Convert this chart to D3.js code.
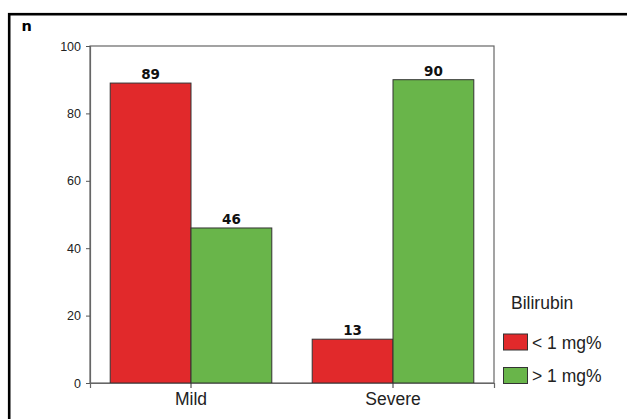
<!DOCTYPE html>
<html><head><meta charset="utf-8">
<script src="https://cdn.jsdelivr.net/npm/d3@7"></script>
<style>body{margin:0;background:#fff}</style>
</head><body><svg id="c" width="627" height="419"></svg>
<script>
const categories = ["Mild", "Severe"];
const seriesNames = ["< 1 mg%", "> 1 mg%"];
const lowBilirubin = [89, 13];
const highBilirubin = [46, 90];
const yTicks = [0, 20, 40, 60, 80, 100];
const colors = ["#e1292b", "#69b54a"];

const svg = d3.select("#c");
const W = 627, H = 419;
const m = {left: 90, top: 46, right: 494, bottom: 383};
const sans = "Liberation Sans, Arial, sans-serif";

svg.append("rect").attr("width", W).attr("height", H).attr("fill", "#fff");
svg.append("rect").attr("x", 9.2).attr("y", 14.2).attr("width", 700).attr("height", 500)
  .attr("fill", "none").attr("stroke", "#000").attr("stroke-width", 2.6);

svg.append("text").attr("x", 21.5).attr("y", 31).text("n")
  .attr("font-family", "DejaVu Sans, sans-serif").attr("font-weight", "bold").attr("font-size", 14.5);

const x0 = d3.scaleBand().domain(categories).range([m.left, m.right]).paddingInner(0.2).paddingOuter(0.1);
const x1 = d3.scaleBand().domain([0, 1]).range([0, x0.bandwidth()]);
const y = d3.scaleLinear().domain([0, 100]).range([m.bottom, m.top]);

// plot frame
svg.append("rect").attr("x", m.left).attr("y", m.top).attr("width", m.right - m.left).attr("height", m.bottom - m.top)
  .attr("fill", "none").attr("stroke", "#666").attr("stroke-width", 1.2);

const data = categories.map((c, i) => ({cat: c, vals: [lowBilirubin[i], highBilirubin[i]]}));

const g = svg.selectAll(".grp").data(data).join("g").attr("transform", d => `translate(${x0(d.cat)},0)`);
g.selectAll("rect").data(d => d.vals.map((v, k) => ({v, k}))).join("rect")
  .attr("x", d => x1(d.k)).attr("y", d => y(d.v)).attr("width", x1.bandwidth()).attr("height", d => y(0) - y(d.v))
  .attr("fill", d => colors[d.k]).attr("stroke", "#333").attr("stroke-width", 1);
g.selectAll("text").data(d => d.vals.map((v, k) => ({v, k}))).join("text")
  .attr("x", d => x1(d.k) + x1.bandwidth() / 2).attr("y", d => y(d.v) - 4)
  .attr("text-anchor", "middle").attr("font-family", "DejaVu Sans, sans-serif").attr("font-weight", "bold").attr("font-size", 13.5)
  .attr("fill", "#111").text(d => d.v);

// y axis
const ya = svg.append("g").attr("transform", `translate(${m.left},0)`)
  .call(d3.axisLeft(y).tickValues(yTicks).tickSize(4).tickPadding(5));
ya.select(".domain").attr("stroke", "#666").attr("stroke-width", 1.2);
ya.selectAll("line").attr("stroke", "#555");
ya.selectAll("text").attr("font-family", sans).attr("font-size", 12.5).attr("fill", "#222");

// x axis
const xa = svg.append("g").attr("transform", `translate(0,${m.bottom})`)
  .call(d3.axisBottom(x0).tickSize(5).tickPadding(5));
xa.select(".domain").attr("stroke", "#666").attr("stroke-width", 1.2);
xa.selectAll("line").attr("stroke", "#333");
xa.selectAll("text").attr("font-family", sans).attr("font-size", 17.5).attr("fill", "#222");

// legend
const lg = svg.append("g");
lg.append("text").attr("x", 511).attr("y", 309).text("Bilirubin")
  .attr("font-family", sans).attr("font-size", 17.5).attr("fill", "#222");
seriesNames.forEach((s, k) => {
  const yy = 334 + k * 33.5;
  lg.append("rect").attr("x", 503.5).attr("y", yy).attr("width", 24).attr("height", 16)
    .attr("fill", colors[k]).attr("stroke", "#333").attr("stroke-width", 1);
  lg.append("text").attr("x", 532).attr("y", yy + 14.5).text(s)
    .attr("font-family", sans).attr("font-size", 17.5).attr("fill", "#222");
});
</script></body></html>
